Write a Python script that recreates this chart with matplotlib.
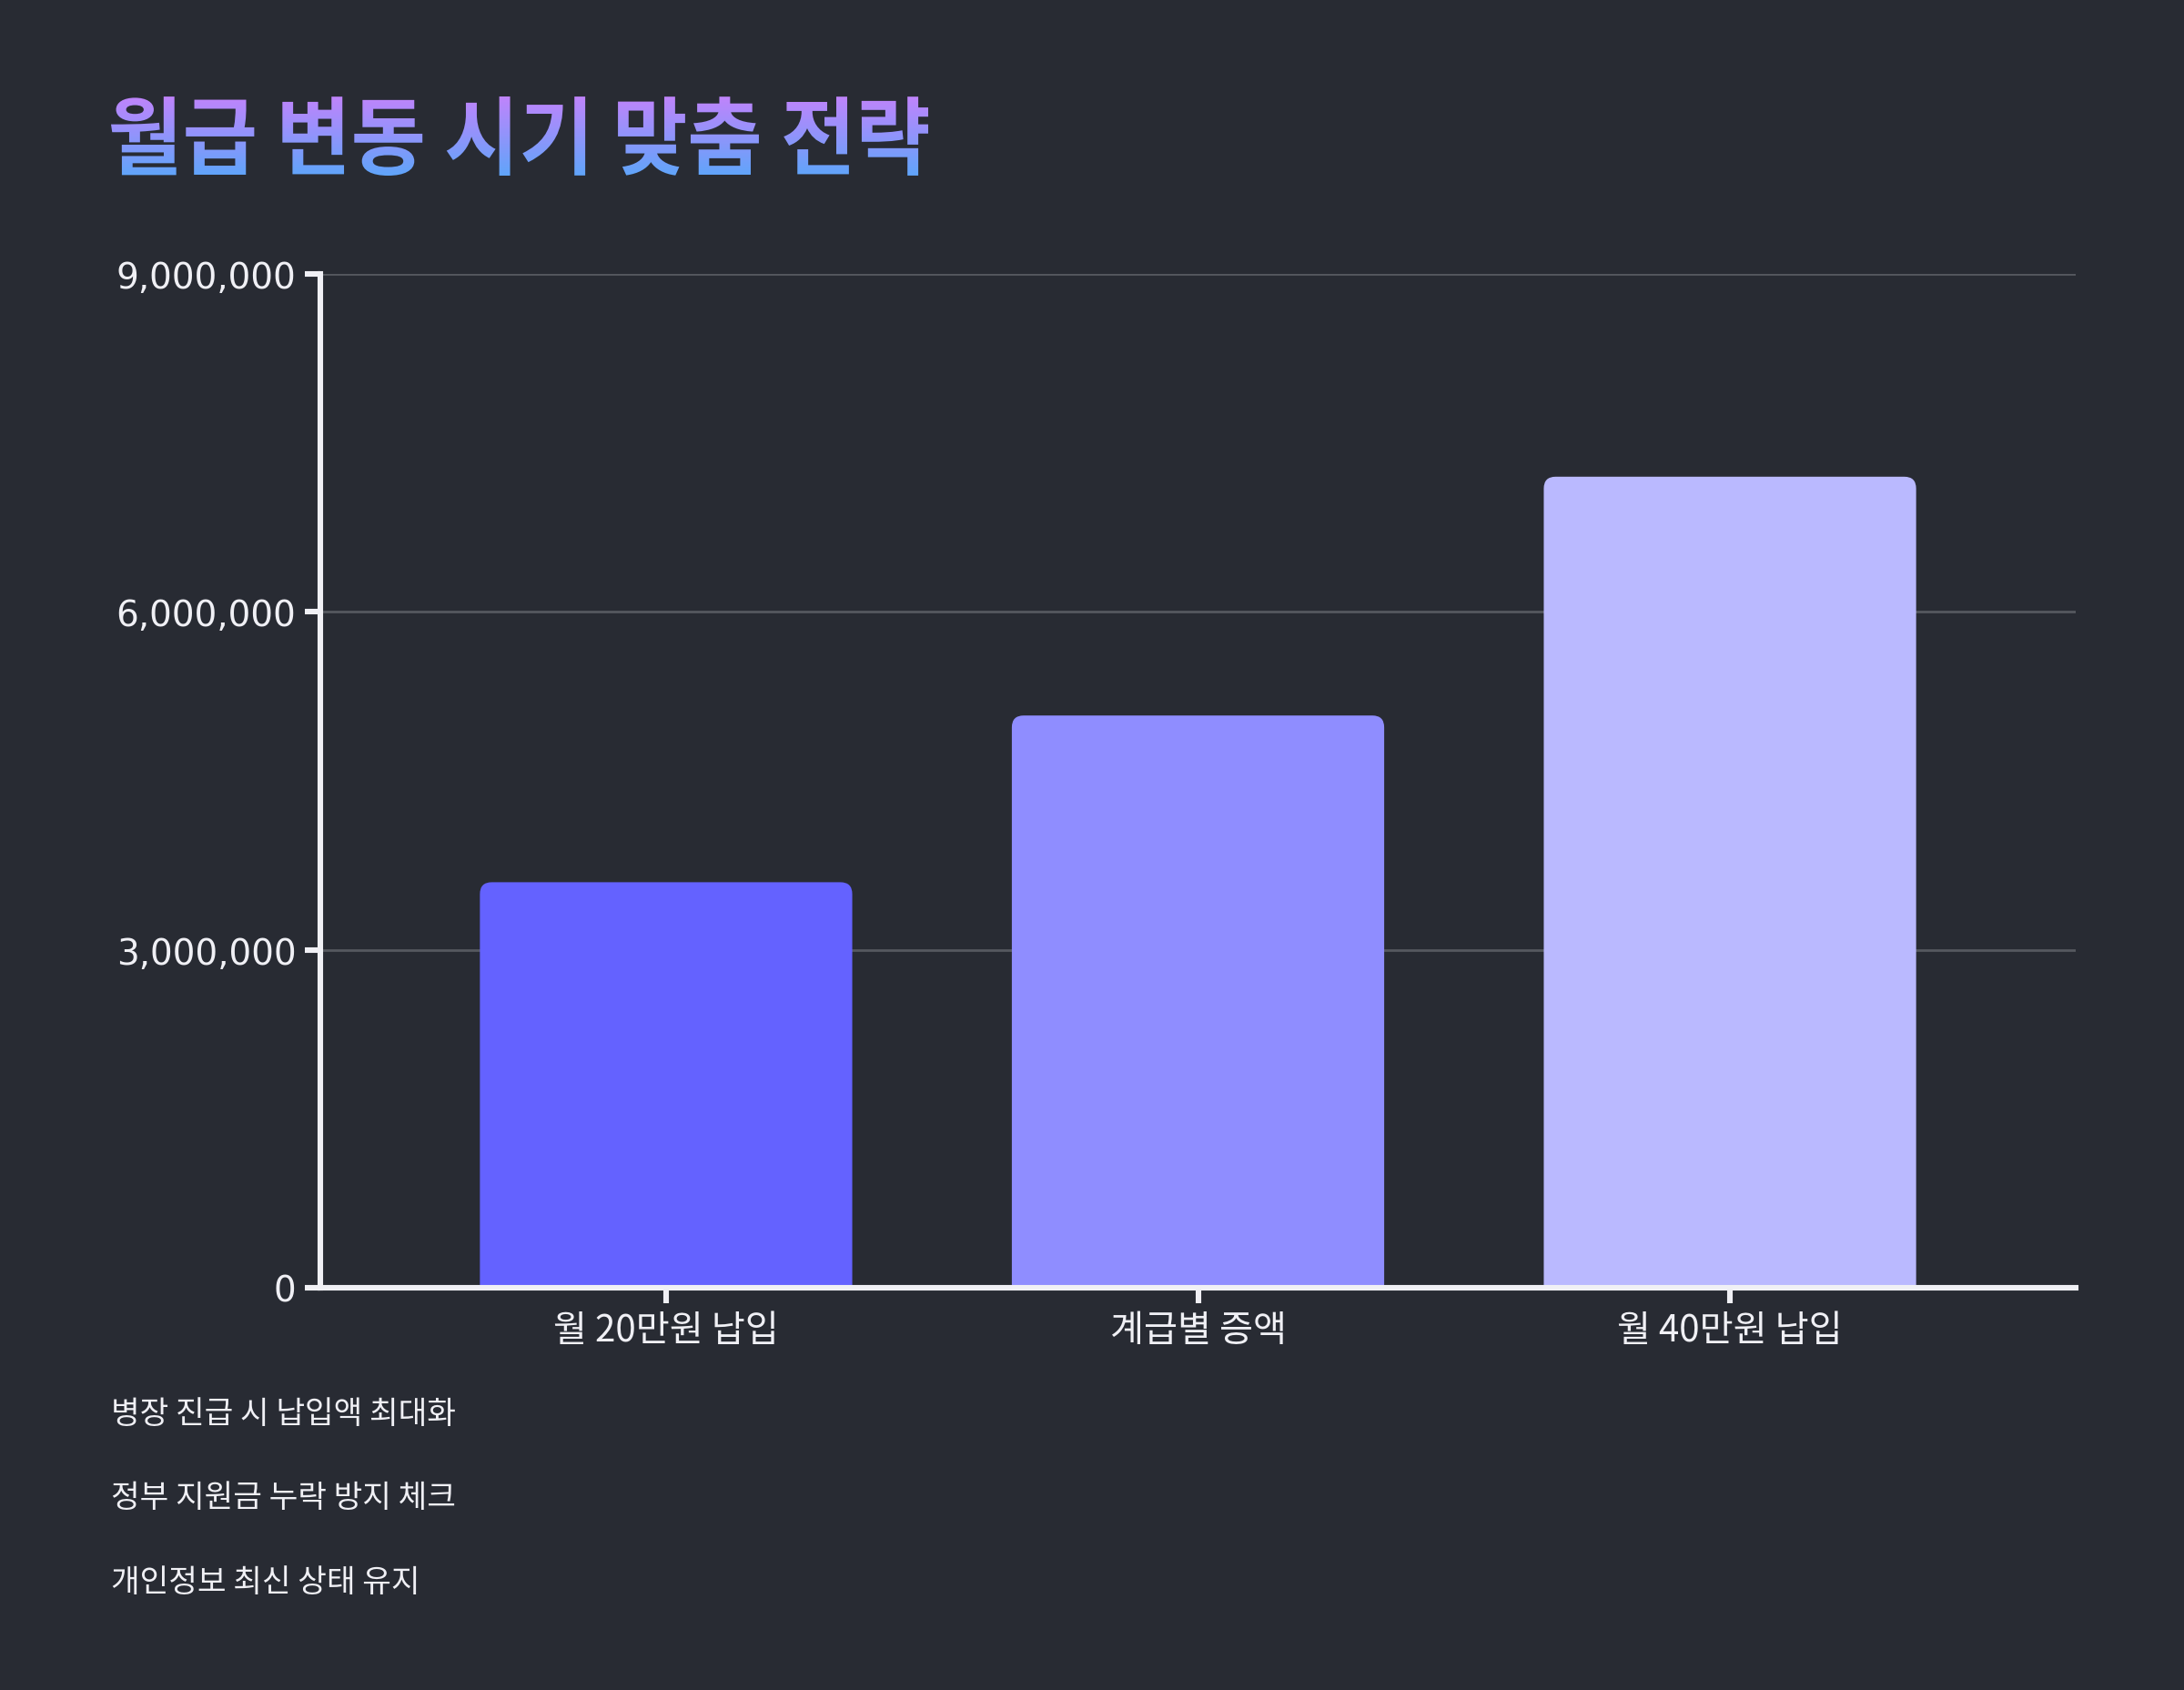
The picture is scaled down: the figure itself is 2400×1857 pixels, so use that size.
import numpy as np
import matplotlib
matplotlib.use("Agg")
import matplotlib.pyplot as plt
from matplotlib.patches import FancyBboxPatch, PathPatch
from matplotlib.textpath import TextPath
from matplotlib.font_manager import FontProperties
from matplotlib.colors import LinearSegmentedColormap
from matplotlib.transforms import Affine2D
from matplotlib.ticker import FuncFormatter

plt.rcParams['font.family'] = ['Noto Sans CJK KR', 'DejaVu Sans']

title = "월급 변동 시기 맞춤 전략"
categories = ["월 20만원 납입", "계급별 증액", "월 40만원 납입"]
values = [3600000, 5080000, 7200000]
bar_colors = ["#6462FF", "#8F8DFF", "#BAB9FF"]
y_ticks = [0, 3000000, 6000000, 9000000]
notes = ["병장 진급 시 납입액 최대화", "정부 지원금 누락 방지 체크", "개인정보 최신 상태 유지"]

BG = "#282B33"
FG = "#F0F0F5"
W, H = 2400, 1858
DPI = 200

# axes box in pixels (from top-left)
L, R, T, B = 352, 2281, 302, 1416

fig = plt.figure(figsize=(W / DPI, H / DPI), dpi=DPI, facecolor=BG)
ax = fig.add_axes([L / W, 1 - B / H, (R - L) / W, (B - T) / H])
ax.set_facecolor(BG)

x = np.arange(len(categories))
ax.set_xlim(-0.65, len(categories) - 1 + 0.65)
ax.set_ylim(0, 9000000)

# rounded tops: boxes start below zero so the lower corners get clipped
xrange_ = ax.get_xlim()[1] - ax.get_xlim()[0]
x_per_px = xrange_ / (R - L)
y_per_px = 9000000 / (B - T)
radius = 13 * x_per_px
aspect = y_per_px / x_per_px
bars = ax.bar(x, values, width=0.7, color=bar_colors)
for b, c in zip(bars, bar_colors):
    bx, bw, bh = b.get_x(), b.get_width(), b.get_height()
    b.remove()
    off = 40 * y_per_px
    p = FancyBboxPatch((bx, -off), bw, bh + off,
                       boxstyle=f"round,pad=0,rounding_size={radius}",
                       mutation_aspect=aspect, facecolor=c, edgecolor="none", zorder=2)
    ax.add_patch(p)

ax.set_yticks(y_ticks)
ax.yaxis.set_major_formatter(FuncFormatter(lambda v, _: f"{int(v):,}"))
ax.set_xticks(x)
ax.set_xticklabels(categories)
for lbl in ax.get_yticklabels():
    lbl.set_family('DejaVu Sans')
for yt in y_ticks[1:]:
    ax.axhline(yt, color="#55585F", lw=1.0, zorder=1)

for s in ["top", "right"]:
    ax.spines[s].set_visible(False)
for s in ["left", "bottom"]:
    ax.spines[s].set_color(FG)
    ax.spines[s].set_linewidth(2.2)
    ax.spines[s].set_zorder(5)
ax.tick_params(axis="both", colors=FG, length=6, width=2.2, labelsize=14, pad=3.5)
ax.tick_params(axis="x", labelsize=14.5)

# gradient title drawn as a clipped image over the text path
over = fig.add_axes([0, 0, 1, 1], zorder=10)
over.set_xlim(0, W)
over.set_ylim(0, H)
over.axis("off")
over.patch.set_alpha(0)
fp = FontProperties(family="Noto Sans CJK KR", weight="bold")
tp = TextPath((0, 0), title, size=96, prop=fp)
ext = tp.get_extents()
sx, sy = 898 / ext.width, 87 / ext.height
tp = (Affine2D().translate(-ext.x0, -ext.y1).scale(sx, sy)
      .translate(122, H - 107)).transform_path(tp)
ext = tp.get_extents()
clip = PathPatch(tp, transform=over.transData, facecolor="none", edgecolor="none")
over.add_patch(clip)
cmap = LinearSegmentedColormap.from_list("t", ["#60A5FA", "#C084FC"])
grad = np.linspace(0, 1, 256).reshape(-1, 1)
im = over.imshow(grad, cmap=cmap, origin="lower", aspect="auto",
                 extent=(ext.x0, ext.x1, ext.y0, ext.y1))
im.set_clip_path(clip)

for note, ypx in zip(notes, [1555, 1647, 1740]):
    fig.text(122 / W, 1 - ypx / H, note, color=FG, fontsize=12.4, ha="left", va="center")

fig.savefig("out.png", dpi=DPI, facecolor=BG)
